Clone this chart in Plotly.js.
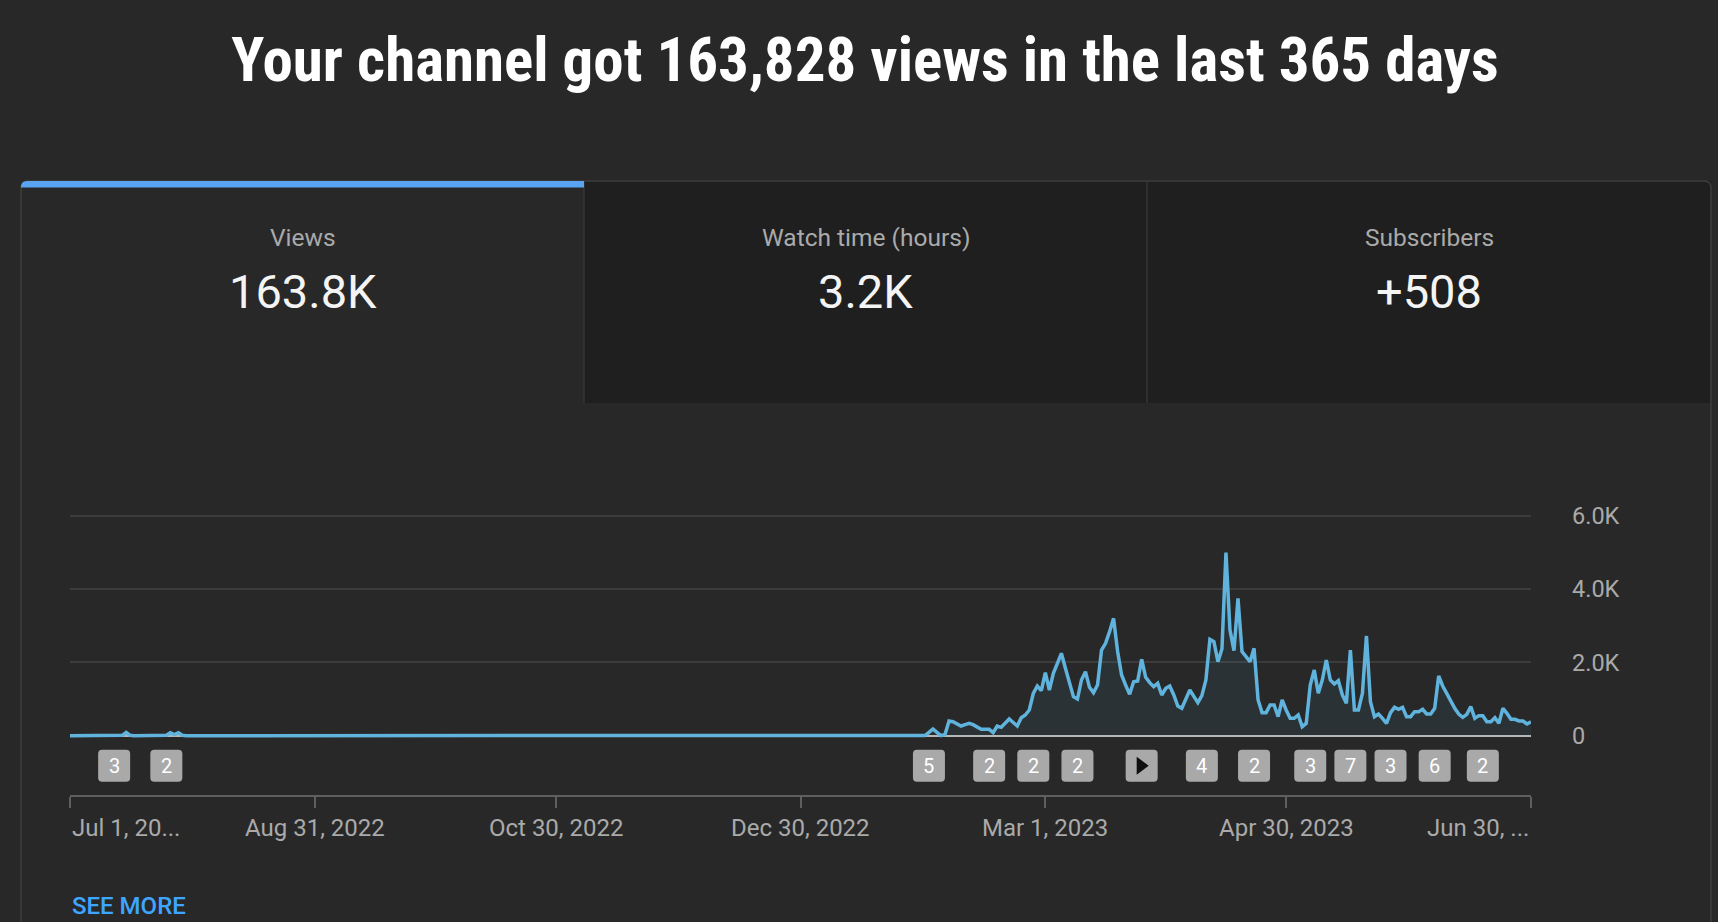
<!DOCTYPE html>
<html><head><meta charset="utf-8">
<script src="https://cdn.plot.ly/plotly-3.0.1.min.js"></script>
<style>html,body{margin:0;padding:0;background:#282828;overflow:hidden}#chart{width:1718px;height:922px}</style>
</head><body><div id="chart"></div>
<script>
// ---------- data ----------
const titleText = "Your channel got 163,828 views in the last 365 days";
const tabLabels = ["Views", "Watch time (hours)", "Subscribers"];
const tabValues = ["163.8K", "3.2K", "+508"];

const startDate = "2022-07-01";
const dailyViews = [
  0,0,0,0,0,0,0,0,0,0,0,0,0,
  10,90,10,
  0,0,0,0,0,0,0,0,
  15,80,30,80,10,
  0,0,0,0,0,0,0,0,0,0,0,0,0,0,0,0,0,0,0,0,
  0,0,0,0,0,0,0,0,0,0,0,0,0,0,0,0,0,0,0,0,
  0,0,0,0,0,0,0,0,0,0,0,0,0,0,0,0,0,0,0,0,
  0,0,0,0,0,0,0,0,0,0,0,0,0,0,0,0,0,0,0,0,
  0,0,0,0,0,0,0,0,0,0,0,0,0,0,0,0,0,0,0,0,
  0,0,0,0,0,0,0,0,0,0,0,0,0,0,0,0,0,0,0,0,
  0,0,0,0,0,0,0,0,0,0,0,0,0,0,0,0,0,0,0,0,
  0,0,0,0,0,0,0,0,0,0,0,0,0,0,0,0,0,0,0,0,
  0,0,0,0,0,0,0,0,0,0,0,0,0,0,0,0,0,0,0,0,
  0,0,0,0,
  5,
  90,183,90,5,30,400,380,320,264,300,
  336,300,240,173,173,173,82,264,229,340,
  455,360,264,490,563,700,1150,1354,1227,1718,
  1245,1700,1970,2245,1836,1427,1064,1000,1518,1745,
  1318,1173,1382,2335,2517,2835,3198,2300,1654,1382,
  1127,1472,1491,2081,1591,1445,1336,1427,1109,1291,
  1354,1109,809,746,1018,1245,1070,900,1091,1518,
  2626,2562,2017,2363,4988,2880,2317,3743,2290,2154,
  2017,2381,973,628,628,837,837,519,973,700,
  473,473,564,246,337,1382,1790,1155,1518,2063,
  1518,1409,1500,1109,882,2335,700,700,1155,2717,
  927,519,591,473,337,628,773,719,773,519,
  519,655,655,719,591,591,746,1627,1354,1155,
  927,746,591,501,582,791,473,546,546,382,
  382,491,337,746,610,446,446,401,401,319,
  382
];

const tickDates = ["2022-07-01","2022-08-31","2022-10-30","2022-12-30","2023-03-01","2023-04-30","2023-06-30"];
const tickLabels = ["Jul 1, 20...","Aug 31, 2022","Oct 30, 2022","Dec 30, 2022","Mar 1, 2023","Apr 30, 2023","Jun 30, ..."];
const yTickValues = [0, 2000, 4000, 6000];
const yTickLabels = ["0", "2.0K", "4.0K", "6.0K"];

const markerDates = ["2022-07-12","2022-07-25","2023-01-31","2023-02-15","2023-02-26","2023-03-09","2023-03-25",
                     "2023-04-09","2023-04-22","2023-05-06","2023-05-16","2023-05-26","2023-06-06","2023-06-18"];
const markerLabels = ["3","2","5","2","2","2","play","4","2","3","7","3","6","2"];

// ---------- build ----------
const dates = dailyViews.map((_, i) => new Date(Date.UTC(2022, 6, 1 + i)).toISOString().slice(0, 10));

const W = 1718, H = 922, ML = 70, MR = 187, MT = 500, MB = 127;
const PW = W - ML - MR, PH = H - MT - MB;
const fx = x => (x - ML) / PW;
const fy = y => (H - MB - y) / PH;
const conv = p => p.replace(/(-?[\d.]+),(-?[\d.]+)/g, (m, a, b) => fx(+a) + "," + fy(+b));
const Y0PX = 735.7, PERPX = 27.25;
const yMin = -(H - MB - Y0PX) * PERPX, yMax = yMin + PH * PERPX;
const markerY = -(765.7 - Y0PX) * PERPX;

const font = "Roboto, 'Noto Sans', sans-serif";
const shapes = [
  {type:"rect", xref:"paper", yref:"paper", x0:fx(584), x1:fx(1711), y0:fy(181), y1:fy(403),
   fillcolor:"#1f1f1f", line:{width:0}, layer:"below"},
  {type:"path", xref:"paper", yref:"paper", path:conv("M 21,940 L 21,188 Q 21,181 28,181 L 1704,181 Q 1711,181 1711,188 L 1711,940"),
   fillcolor:"rgba(0,0,0,0)", line:{color:"#3d3d3d", width:1.5}, layer:"below"},
  {type:"line", xref:"paper", yref:"paper", x0:fx(584), x1:fx(584), y0:fy(181), y1:fy(403), line:{color:"#363636", width:1.5}, layer:"below"},
  {type:"line", xref:"paper", yref:"paper", x0:fx(1147), x1:fx(1147), y0:fy(181), y1:fy(403), line:{color:"#363636", width:1.5}, layer:"below"},
  {type:"path", xref:"paper", yref:"paper", path:conv("M 21,187.5 L 21,187 Q 21,181 27,181 L 584,181 L 584,187.5 Z"),
   fillcolor:"#58a3f2", line:{width:0}, layer:"below"}
];
const annotations = [];
tabLabels.forEach((t, i) => {
  const cx = [302.5, 865.5, 1429][i];
  annotations.push({xref:"paper", yref:"paper", x:fx(cx), y:fy(237), text:t, showarrow:false,
    xanchor:"center", yanchor:"middle", font:{family:font, size:24.5, color:"#aaaaaa"}});
  annotations.push({xref:"paper", yref:"paper", x:fx(cx), y:fy(291.5), text:tabValues[i], showarrow:false,
    xanchor:"center", yanchor:"middle", font:{family:font, size:47, color:"#f4f4f4"}});
});
tickDates.forEach((d, i) => {
  annotations.push({xref:"x", yref:"paper", x:d, y:fy(828), text:tickLabels[i], showarrow:false,
    xanchor: i === 0 ? "left" : (i === tickDates.length - 1 ? "right" : "center"), yanchor:"middle",
    font:{family:font, size:24, color:"#aaaaaa"}});
});
const boxPath = "M -12,-16 L 12,-16 Q 16,-16 16,-12 L 16,12 Q 16,16 12,16 L -12,16 Q -16,16 -16,12 L -16,-12 Q -16,-16 -12,-16 Z";
markerDates.forEach((d, i) => {
  shapes.push({type:"path", xref:"x", yref:"y", xsizemode:"pixel", ysizemode:"pixel", xanchor:d, yanchor:markerY,
    path:boxPath, fillcolor:"#a9a9a9", line:{width:0}, layer:"above"});
  if (markerLabels[i] === "play") {
    shapes.push({type:"path", xref:"x", yref:"y", xsizemode:"pixel", ysizemode:"pixel", xanchor:d, yanchor:markerY,
      path:"M -5,-9 L 7,0 L -5,9 Z", fillcolor:"#0f0f0f", line:{width:0}, layer:"above"});
  } else {
    annotations.push({xref:"x", yref:"y", x:d, y:markerY, text:markerLabels[i], showarrow:false,
      xanchor:"center", yanchor:"middle", font:{family:font, size:20, color:"#ffffff"}});
  }
});
annotations.push({xref:"paper", yref:"paper", x:fx(70), y:fy(906), text:"SEE MORE", showarrow:false,
  xanchor:"left", yanchor:"middle", font:{family:font, size:24, color:"#3ea6ff", weight:500}});

const trace = {
  type:"scatter", mode:"lines", x:dates, y:dailyViews,
  line:{color:"#5fb3dc", width:3.5}, fill:"tozeroy", fillcolor:"rgba(95,180,220,0.08)",
  hoverinfo:"skip", showlegend:false
};

const layout = {
  width:W, height:H, margin:{l:ML, r:MR, t:MT, b:MB, pad:0},
  paper_bgcolor:"#282828", plot_bgcolor:"#282828",
  title:{text:titleText, x:865/W, xref:"container", xanchor:"center", y:1 - 60/H, yref:"container", yanchor:"middle",
    font:{family:"'Liberation Sans Narrow', 'Roboto Condensed', 'DejaVu Sans Condensed', Roboto", size:61, color:"#ffffff", weight:700}},
  xaxis:{type:"date", range:[startDate, "2023-06-30"], tickvals:tickDates, showticklabels:false,
    ticks:"outside", ticklen:11, tickwidth:2, tickcolor:"#5f5f5f", showline:true, linecolor:"#5f5f5f", linewidth:2,
    showgrid:false, zeroline:false, fixedrange:true},
  yaxis:{range:[yMin, yMax], side:"right", tickvals:yTickValues, ticktext:yTickLabels, ticks:"",
    ticklabelstandoff:40, tickfont:{family:font, size:23.5, color:"#aaaaaa"},
    showgrid:true, gridcolor:"#3c3c3c", gridwidth:2, zeroline:true, zerolinecolor:"#b8b8b8", zerolinewidth:2,
    showline:false, fixedrange:true},
  shapes, annotations, showlegend:false
};
Plotly.newPlot("chart", [trace], layout, {displayModeBar:false, staticPlot:true});
</script></body></html>
